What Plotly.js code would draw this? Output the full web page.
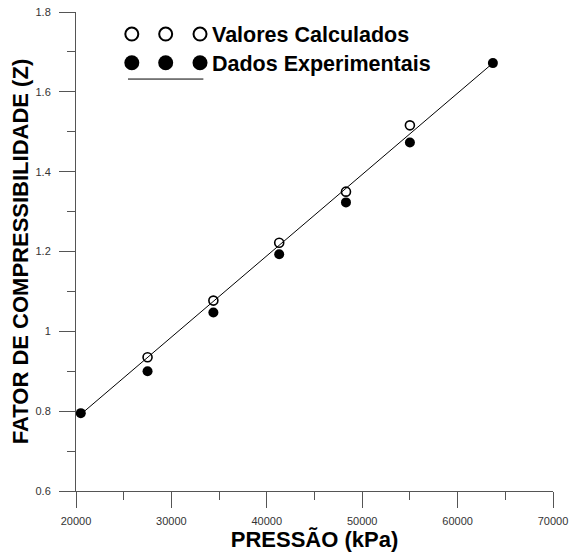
<!DOCTYPE html>
<html>
<head>
<meta charset="utf-8">
<script src="https://cdn.plot.ly/plotly-3.0.1.min.js"></script>
<style>html,body{margin:0;padding:0;background:#fff;}#chart{width:569px;height:553px;}</style>
</head>
<body>
<div id="chart"></div>
<script>
// Pressures (kPa)
const pressao = [20500, 27500, 34400, 41300, 48300, 55000, 63700];
// Calculated Z (open circles) — first and last coincide with experimental
const zCalcP = [27500, 34400, 41300, 48300, 55000];
const zCalc = [0.935, 1.077, 1.222, 1.350, 1.516];
// Experimental Z (filled circles)
const zExp = [0.795, 0.900, 1.047, 1.193, 1.323, 1.473, 1.672];
// Fitted line endpoints
const lineP = [20500, 63700];
const lineZ = [0.792, 1.672];
const xTicks = [20000, 30000, 40000, 50000, 60000, 70000];
const yTicks = [0.6, 0.8, 1.0, 1.2, 1.4, 1.6, 1.8];
const yTickText = ["0.6", "0.8", "1", "1.2", "1.4", "1.6", "1.8"];
const legendLabels = ["Valores Calculados", "Dados Experimentais"];

const traces = [
  {x: lineP, y: lineZ, mode: 'lines', line: {color: '#000', width: 1}, hoverinfo: 'skip'},
  {x: zCalcP, y: zCalc, mode: 'markers', marker: {symbol: 'circle-open', size: 9, color: '#000', line: {width: 1.6, color: '#000'}}},
  {x: pressao, y: zExp, mode: 'markers', marker: {symbol: 'circle', size: 10, color: '#000'}},
  // legend decorations on overlay paper-like axes
  {x: [0.117, 0.188, 0.26], y: [0.954, 0.954, 0.954], xaxis: 'x2', yaxis: 'y2', mode: 'markers',
   marker: {symbol: 'circle-open', size: 13, color: '#000', line: {width: 2, color: '#000'}}},
  {x: [0.117, 0.188, 0.26], y: [0.894, 0.894, 0.894], xaxis: 'x2', yaxis: 'y2', mode: 'markers',
   marker: {symbol: 'circle', size: 15, color: '#000'}},
  {x: [0.109, 0.267], y: [0.86, 0.86], xaxis: 'x2', yaxis: 'y2', mode: 'lines', line: {color: '#000', width: 1}}
];

const layout = {
  width: 569, height: 553,
  margin: {l: 76, r: 16, t: 12, b: 62},
  paper_bgcolor: '#fff', plot_bgcolor: '#fff',
  showlegend: false,
  font: {family: 'Liberation Sans, Arial, sans-serif', color: '#000'},
  xaxis: {
    range: [20000, 70000], tickvals: xTicks, ticktext: xTicks.map(String),
    showgrid: false, zeroline: false, showline: true, linecolor: '#555', linewidth: 1,
    ticks: 'outside', ticklen: 16, tickcolor: '#555', tickwidth: 1,
    minor: {dtick: 5000, tick0: 20000, ticks: 'outside', ticklen: 8, tickcolor: '#555', showgrid: false},
    tickfont: {size: 11, color: '#333'}, ticklabelstandoff: 4,
    title: {text: '<b>PRESSÃO (kPa)</b>', font: {size: 22, color: '#000'}, standoff: 3}
  },
  yaxis: {
    range: [0.6, 1.8], tickvals: yTicks, ticktext: yTickText,
    showgrid: false, zeroline: false, showline: true, linecolor: '#555', linewidth: 1,
    ticks: 'outside', ticklen: 16, tickcolor: '#555', tickwidth: 1,
    minor: {dtick: 0.1, tick0: 0.6, ticks: 'outside', ticklen: 8, tickcolor: '#555', showgrid: false},
    tickfont: {size: 11, color: '#333'}, ticklabelstandoff: 6,
    title: {text: '<b>FATOR DE COMPRESSIBILIDADE (Z)</b>', font: {size: 22, color: '#000'}, standoff: 0}
  },
  xaxis2: {range: [0, 1], overlaying: 'x', visible: false, fixedrange: true},
  yaxis2: {range: [0, 1], overlaying: 'y', visible: false, fixedrange: true},
  annotations: [
    {xref: 'paper', yref: 'paper', x: 0.28, y: 0.952, xanchor: 'left', yanchor: 'middle', showarrow: false,
     text: '<b>' + legendLabels[0] + '</b>', font: {size: 21.5, color: '#000'}},
    {xref: 'paper', yref: 'paper', x: 0.28, y: 0.892, xanchor: 'left', yanchor: 'middle', showarrow: false,
     text: '<b>' + legendLabels[1] + '</b>', font: {size: 21.5, color: '#000'}}
  ]
};

Plotly.newPlot('chart', traces, layout, {displayModeBar: false, staticPlot: true});
</script>
</body>
</html>
